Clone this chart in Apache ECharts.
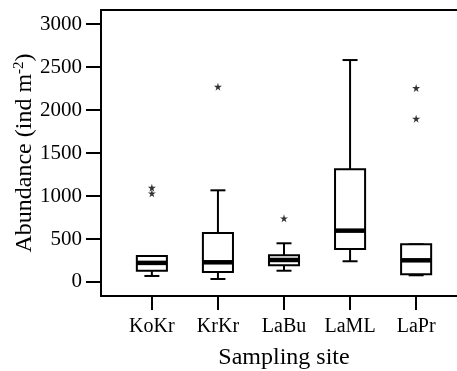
<!DOCTYPE html>
<html lang="en">

<head>
    <meta charset="UTF-8">
    <title>Abundance by sampling site</title>
    <script src="https://cdn.jsdelivr.net/npm/echarts@6/dist/echarts.min.js"></script>
    <style>
        html, body {
            margin: 0;
            padding: 0;
            background: #fff;
        }

        #chart {
            width: 457px;
            height: 371px;
        }
    </style>
</head>

<body>
    <div id="chart"></div>

    <script>
        const sites = ['KoKr', 'KrKr', 'LaBu', 'LaML', 'LaPr'];
        const lowerWhisker = [70, 35, 131, 241, 78];
        const q1 = [131, 116, 194, 384, 89];
        const median = [222, 229, 256, 597, 252];
        const q3 = [302, 570, 310, 1310, 438];
        const upperWhisker = [302, 1066, 450, 2581, 438];
        const outliers = [[0, 1097], [0, 1031], [1, 2271], [2, 740], [4, 2256], [4, 1899]];
        const yTicks = [0, 500, 1000, 1500, 2000, 2500, 3000];

        const font = 'Liberation Serif';
        const star = 'path://M50,0 L61,35 L98,35 L68,57 L79,91 L50,70 L21,91 L32,57 L2,35 L39,35 Z';
        const frameLine = { color: '#000', width: 2 };

        const boxData = sites.map((s, i) => [i, lowerWhisker[i], q1[i], median[i], q3[i], upperWhisker[i]]);

        const renderBox = (params, api) => {
            const x = api.value(0);
            const halfBox = api.size([0.455, 0])[0] / 2;
            const halfCap = api.size([0.227, 0])[0] / 2;
            const lo = api.coord([x, api.value(1)]);
            const b1 = api.coord([x, api.value(2)]);
            const md = api.coord([x, api.value(3)]);
            const b3 = api.coord([x, api.value(4)]);
            const hi = api.coord([x, api.value(5)]);
            const stroke = { stroke: '#000', lineWidth: 2, fill: null };
            return {
                type: 'group',
                children: [
                    { type: 'line', shape: { x1: lo[0], y1: lo[1], x2: b1[0], y2: b1[1] }, style: stroke },
                    { type: 'line', shape: { x1: hi[0], y1: hi[1], x2: b3[0], y2: b3[1] }, style: stroke },
                    { type: 'line', shape: { x1: lo[0] - halfCap, y1: lo[1], x2: lo[0] + halfCap, y2: lo[1] }, style: stroke },
                    { type: 'line', shape: { x1: hi[0] - halfCap, y1: hi[1], x2: hi[0] + halfCap, y2: hi[1] }, style: stroke },
                    {
                        type: 'rect',
                        shape: { x: b3[0] - halfBox, y: b3[1], width: halfBox * 2, height: b1[1] - b3[1] },
                        style: { stroke: '#000', lineWidth: 2, fill: '#fff' }
                    },
                    { type: 'line', shape: { x1: md[0] - halfBox, y1: md[1], x2: md[0] + halfBox, y2: md[1] }, style: { stroke: '#000', lineWidth: 4.5 } }
                ]
            };
        };

        const chart = echarts.init(document.getElementById('chart'));

        chart.setOption({
            animation: false,
            backgroundColor: '#fff',
            grid: {
                left: 101,
                right: -10,
                top: 10,
                bottom: 75,
                containLabel: false,
                outerBoundsMode: 'none',
                show: false
            },
            xAxis: [
                {
                    type: 'value',
                    position: 'bottom',
                    min: -0.77,
                    max: 4.77,
                    name: 'Sampling site',
                    nameLocation: 'middle',
                    nameGap: 50,
                    nameMoveOverlap: false,
                    nameTextStyle: { fontFamily: font, fontSize: 24, color: '#000' },
                    axisLine: { show: true, onZero: false, lineStyle: frameLine },
                    splitLine: { show: false },
                    axisTick: {
                        show: true,
                        customValues: sites.map((s, i) => i),
                        length: 14,
                        lineStyle: frameLine
                    },
                    axisLabel: {
                        customValues: sites.map((s, i) => i),
                        formatter: v => sites[Math.round(v)],
                        margin: 21,
                        fontFamily: font,
                        fontSize: 20,
                        color: '#000'
                    }
                },
                {
                    // top edge of the frame only
                    type: 'value',
                    position: 'top',
                    min: -0.77,
                    max: 4.77,
                    axisLine: { show: true, onZero: false, lineStyle: frameLine },
                    axisTick: { show: false },
                    axisLabel: { show: false },
                    splitLine: { show: false }
                }
            ],
            yAxis: {
                type: 'value',
                min: -163,
                max: 3163,
                name: '{a|Abundance (ind m}{s|-2}{a|)}',
                nameLocation: 'middle',
                nameGap: 63,
                nameMoveOverlap: false,
                nameTextStyle: {
                    color: '#000',
                    rich: {
                        a: { fontFamily: font, fontSize: 24, color: '#000', lineHeight: 26 },
                        s: { fontFamily: font, fontSize: 15, color: '#000', verticalAlign: 'top', lineHeight: 26 }
                    }
                },
                axisLine: { show: true, onZero: false, lineStyle: frameLine },
                splitLine: { show: false },
                axisTick: {
                    show: true,
                    customValues: yTicks,
                    length: 15,
                    lineStyle: frameLine
                },
                axisLabel: {
                    customValues: yTicks,
                    formatter: v => String(v),
                    margin: 19,
                    fontFamily: font,
                    fontSize: 21,
                    color: '#000'
                }
            },
            series: [
                {
                    type: 'custom',
                    renderItem: renderBox,
                    encode: { x: 0, y: [1, 2, 3, 4, 5] },
                    data: boxData,
                    z: 2
                },
                {
                    type: 'scatter',
                    data: outliers,
                    symbol: star,
                    symbolSize: 8,
                    itemStyle: { color: '#000' },
                    z: 3
                }
            ]
        });
    </script>
</body>

</html>
